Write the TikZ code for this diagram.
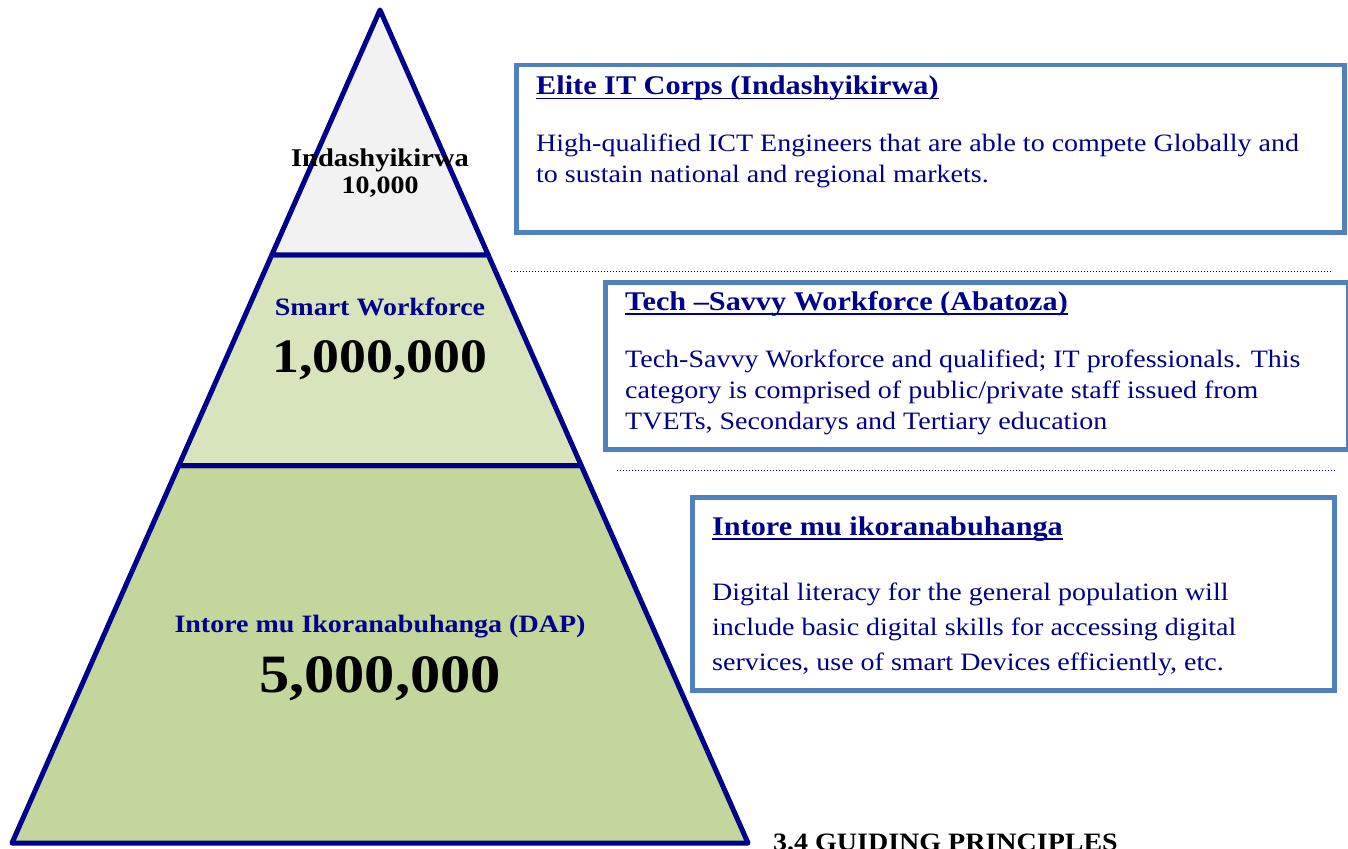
\documentclass[tikz,border=0pt]{standalone}
\usepackage{fontspec}
\setmainfont{Liberation Serif}[FakeStretch=1.12]
\usetikzlibrary{positioning,calc}

\definecolor{navy}{RGB}{0,0,139}
\definecolor{edgeblue}{RGB}{79,129,189}
\definecolor{topgray}{RGB}{242,242,242}
\definecolor{midgreen}{RGB}{216,228,188}
\definecolor{lowgreen}{RGB}{195,214,155}

\tikzset{
	tier/.style={draw=navy, line width=5pt, line join=round},
	infobox/.style={draw=edgeblue, line width=4.5pt, anchor=north west, inner sep=0pt},
	boxhead/.style={anchor=base west, inner sep=0pt, text=navy, font=\bfseries\fontsize{27}{32}\selectfont},
	boxbody/.style={anchor=base west, inner sep=0pt, text=navy, align=left, font=\fontsize{25}{31}\selectfont},
	tiername/.style={anchor=base, inner sep=0pt, font=\bfseries\fontsize{25}{28}\selectfont},
	tiercount/.style={anchor=base, inner sep=0pt, font=\bfseries\fontsize{52}{60}\selectfont},
	sepline/.style={draw=navy, dotted, line width=1pt}
}
\newcommand{\headline}[1]{\setbox0\hbox{#1}\rlap{\rule[-4.5pt]{\wd0}{1.8pt}}\box0}

\begin{document}
\begin{tikzpicture}[x=1pt, y=-1pt]
		\useasboundingbox (0, 0) rectangle (1348, 848);
		\clip (0, 0) rectangle (1348, 848);

		% pyramid
		\coordinate (apex) at (380, 10);
		\coordinate (bl) at (12, 843);
		\coordinate (br) at (748, 843);
		\coordinate (l1) at ($(apex)!0.294!(bl)$);
		\coordinate (r1) at ($(apex)!0.294!(br)$);
		\coordinate (l2) at ($(apex)!0.547!(bl)$);
		\coordinate (r2) at ($(apex)!0.547!(br)$);
		\filldraw[tier, fill=lowgreen] (l2) -- (bl) -- (br) -- (r2) -- cycle;
		\filldraw[tier, fill=midgreen] (l1) -- (l2) -- (r2) -- (r1) -- cycle;
		\filldraw[tier, fill=topgray] (apex) -- (l1) -- (r1) -- cycle;

		\node[tiername, font=\bfseries\fontsize{25.5}{28}\selectfont] (eliteName) at (380, 166) {Indashyikirwa};
		\node[tiername] (eliteCount) at (380, 193) {10,000};
		\node[tiername, text=navy] (smartName) at (380, 315) {Smart Workforce};
		\node[tiercount, font=\bfseries\fontsize{48}{60}\selectfont] (smartCount) at (380, 372) {1,000,000};
		\node[tiername, text=navy] (intoreName) at (380, 632) {Intore mu Ikoranabuhanga (DAP)};
		\node[tiercount, font=\bfseries\fontsize{54}{60}\selectfont] (intoreCount) at (380, 692) {5,000,000};

		% boxes on the right
		\node[infobox, minimum width=828, minimum height=167] (eliteBox) at (514, 63) {};
		\node[infobox, minimum width=743, minimum height=167] (smartBox) at (603, 280) {};
		\node[infobox, minimum width=642, minimum height=193] (intoreBox) at (690, 495) {};

		\node[boxhead] (eliteHead) at (536, 95) {\headline{Elite IT Corps (Indashyikirwa)}};
		\node[boxbody] (eliteText) at (536, 182) {High-qualified ICT Engineers that are able to compete Globally and\\to sustain national and regional markets.};

		\node[boxhead] (smartHead) at (625, 310) {\headline{Tech –Savvy Workforce (Abatoza)}};
		\node[boxbody] (smartText) at (625, 429) {Tech-Savvy Workforce and qualified; IT professionals. This\\category is comprised of public/private staff issued from\\TVETs, Secondarys and Tertiary education};

		\node[boxhead] (intoreHead) at (712, 535) {\headline{Intore mu ikoranabuhanga}};
		\node[boxbody, font=\fontsize{25}{35}\selectfont] (intoreText) at (712, 670) {Digital literacy for the general population will\\include basic digital skills for accessing digital\\services, use of smart Devices efficiently, etc.};

		% dotted separators
		\draw[sepline] (511, 271) -- (1332, 271);
		\draw[sepline] (617, 470) -- (1335, 470);

		\node[anchor=base west, inner sep=0pt, font=\bfseries\fontsize{25}{28}\selectfont] (section) at (773, 850) {3.4 GUIDING PRINCIPLES};
	\end{tikzpicture}
\end{document}
